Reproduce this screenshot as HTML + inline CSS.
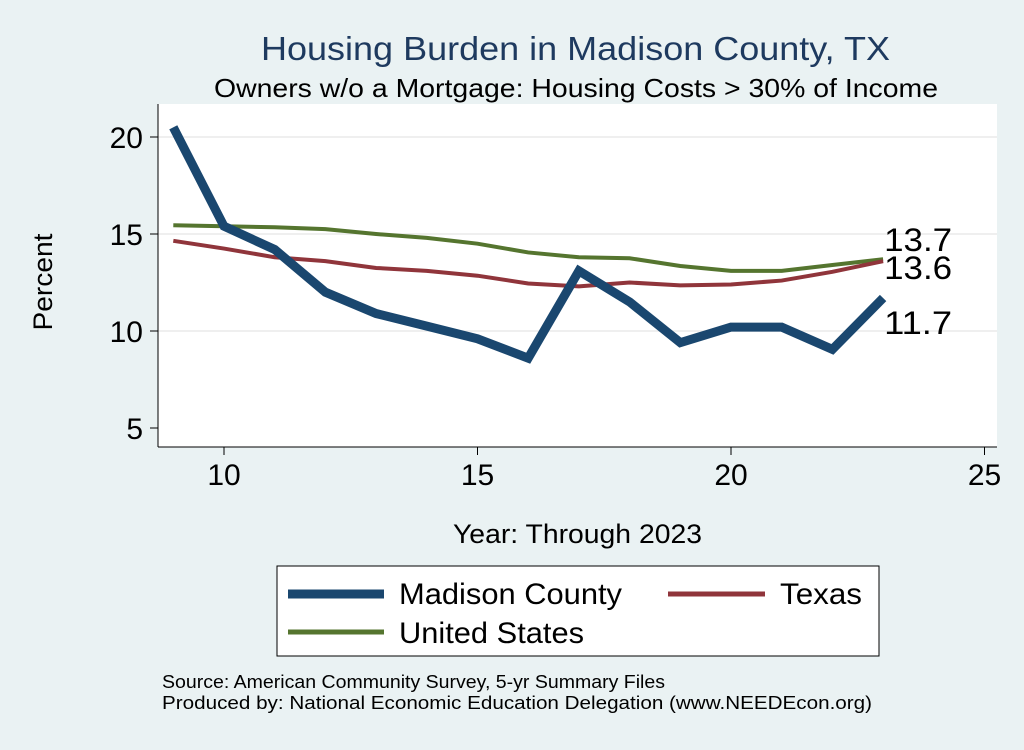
<!DOCTYPE html>
<html><head><meta charset="utf-8"><style>
body{margin:0;background:#eaf2f3;font-family:"Liberation Sans",Arial,sans-serif}
svg text{font-family:"Liberation Sans",Arial,sans-serif}
</style></head><body>
<svg id="chart" width="1024" height="745">
<rect x="0" y="0" width="1024" height="745" fill="#eaf2f3"/>
<rect x="158" y="104" width="839" height="343" fill="#ffffff"/>
<text x="261" y="60" textLength="629" lengthAdjust="spacingAndGlyphs" font-size="33" fill="#1e3a5f">Housing Burden in Madison County, TX</text>
<text x="214" y="97" textLength="724" lengthAdjust="spacingAndGlyphs" font-size="26" fill="#000">Owners w/o a Mortgage: Housing Costs &gt; 30% of Income</text>
<g id="grid"></g><g id="axes"></g><g id="series"></g>
<text x="52" y="282" text-anchor="middle" textLength="97" lengthAdjust="spacingAndGlyphs" font-size="27" transform="rotate(-90 52 282)">Percent</text>
<text x="453" y="543" textLength="249" lengthAdjust="spacingAndGlyphs" font-size="27">Year: Through 2023</text>
<g>
<rect x="277" y="566" width="602" height="90" fill="#fff" stroke="#000" stroke-width="1"/>
<line x1="288" y1="594" x2="384" y2="594" stroke="#1a476f" stroke-width="9"/>
<text x="399" y="604" textLength="223" lengthAdjust="spacingAndGlyphs" font-size="30">Madison County</text>
<line x1="668" y1="594" x2="765" y2="594" stroke="#90353b" stroke-width="5"/>
<text x="780" y="604" textLength="82" lengthAdjust="spacingAndGlyphs" font-size="30">Texas</text>
<line x1="288" y1="632" x2="384" y2="632" stroke="#55752f" stroke-width="5"/>
<text x="399" y="643" textLength="185" lengthAdjust="spacingAndGlyphs" font-size="30">United States</text>
</g>
<text x="162" y="688" textLength="503" lengthAdjust="spacingAndGlyphs" font-size="18">Source: American Community Survey, 5-yr Summary Files</text>
<text x="162" y="709" textLength="710" lengthAdjust="spacingAndGlyphs" font-size="18">Produced by: National Economic Education Delegation (www.NEEDEcon.org)</text>
</svg>
<script>
const years=[9,10,11,12,13,14,15,16,17,18,19,20,21,22,23];
const madison=[20.5,15.4,14.2,12.0,10.9,10.25,9.6,8.6,13.1,11.5,9.4,10.2,10.2,9.05,11.7];
const texas=[14.65,14.25,13.8,13.6,13.25,13.1,12.85,12.45,12.3,12.5,12.35,12.4,12.6,13.05,13.6];
const us=[15.45,15.4,15.35,15.25,15.0,14.8,14.5,14.05,13.8,13.75,13.35,13.1,13.1,13.4,13.7];
const yTicks=[5,10,15,20];
const xTicks=[10,15,20,25];
const NS="http://www.w3.org/2000/svg";
const xs=v=>224+(v-10)*50.7;
const ys=v=>331-(v-10)*19.4;
function mk(t,a,p){const e=document.createElementNS(NS,t);for(const k in a)e.setAttribute(k,a[k]);p.appendChild(e);return e;}
const grid=document.getElementById('grid'),axes=document.getElementById('axes'),ser=document.getElementById('series');
yTicks.forEach(v=>{
 if(v>5){const g=mk('line',{x1:158,x2:997,y1:ys(v),y2:ys(v),stroke:'#eaeaea','stroke-width':1.5},grid);
 
 }
 const t=mk('line',{x1:150,x2:158,y1:ys(v),y2:ys(v),stroke:'#000'},axes);
 
 
 const l=mk('text',{x:143,y:ys(v)+11,'text-anchor':'end','font-size':30},axes);l.textContent=v;
 
 
});
xTicks.forEach(v=>{
 const t=mk('line',{x1:xs(v),x2:xs(v),y1:447,y2:455,stroke:'#000'},axes);
 
 
 const l=mk('text',{x:xs(v),y:485,'text-anchor':'middle','font-size':30},axes);l.textContent=v;
 
 
});
const ya=mk('line',{x1:158,x2:158,y1:104,y2:447,stroke:'#000'},axes);


const xa=mk('line',{x1:158,x2:997,y1:447,y2:447,stroke:'#000'},axes);


function line(d,c,w,name,dy){
 const p=mk('polyline',{points:years.map((y,i)=>xs(y)+','+ys(d[i])).join(' '),fill:'none',stroke:c,'stroke-width':w,'stroke-linejoin':'miter'},ser);
 
 
 const n=d.length-1;
 const t=mk('text',{x:xs(years[n])+1,y:ys(d[n])+dy,'font-size':32,textLength:68,lengthAdjust:'spacingAndGlyphs'},ser);t.textContent=d[n].toFixed(1);
 
 
}
line(us,'#55752f',4,'series-united-states',-8);
line(texas,'#90353b',4,'series-texas',18);
line(madison,'#1a476f',9,'series-madison-county',36);
</script>
</body></html>
